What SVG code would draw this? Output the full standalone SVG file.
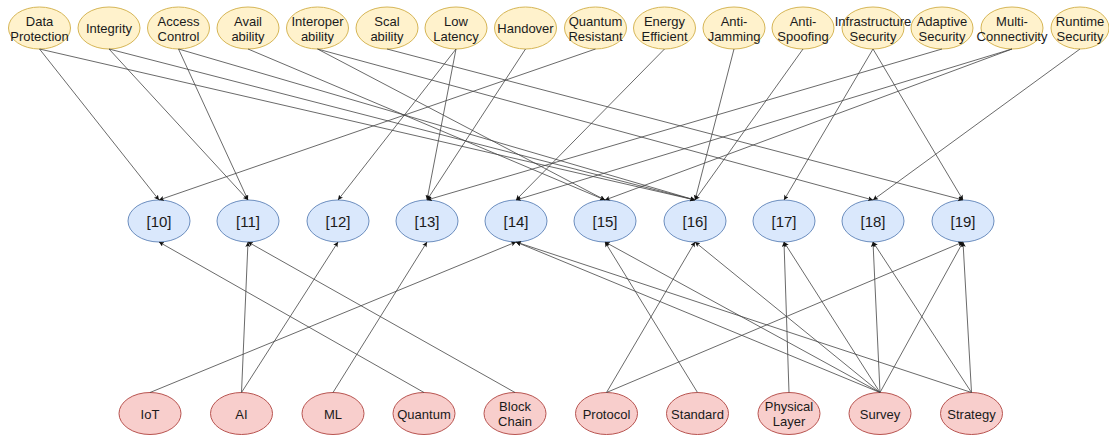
<svg xmlns="http://www.w3.org/2000/svg" width="1109" height="437" viewBox="0 0 1109 437">
<style>
.t ellipse{fill:#fff2cc;stroke:#d6b656;stroke-width:1}
.m ellipse{fill:#dae8fc;stroke:#6c8ebf;stroke-width:1}
.b ellipse{fill:#f8cecc;stroke:#b85450;stroke-width:1}
text{font-family:"Liberation Sans",Arial,sans-serif;font-size:13px;fill:#1a1a1a;text-anchor:middle}
.m text{font-size:15px}
#edges line{stroke:#444;stroke-width:0.8;marker-end:url(#arr)}
</style>
<defs>
<marker id="arr" markerUnits="userSpaceOnUse" markerWidth="8" markerHeight="6" refX="5" refY="2.5" orient="auto">
<path d="M0,0 L5,2.5 L0,5 L1.2,2.5 z" fill="#111"/>
</marker>
</defs>
<rect width="1109" height="437" fill="#ffffff"/>
<g id="top-nodes">
<g id="t0" class="t"><ellipse cx="39.5" cy="28" rx="31" ry="21"/><text x="39.5" y="25.5">Data</text><text x="39.5" y="40.5">Protection</text></g>
<g id="t1" class="t"><ellipse cx="109" cy="28" rx="31" ry="21"/><text x="109" y="33">Integrity</text></g>
<g id="t2" class="t"><ellipse cx="178.5" cy="28" rx="31" ry="21"/><text x="178.5" y="25.5">Access</text><text x="178.5" y="40.5">Control</text></g>
<g id="t3" class="t"><ellipse cx="248" cy="28" rx="31" ry="21"/><text x="248" y="25.5">Avail</text><text x="248" y="40.5">ability</text></g>
<g id="t4" class="t"><ellipse cx="317.5" cy="28" rx="31" ry="21"/><text x="317.5" y="25.5">Interoper</text><text x="317.5" y="40.5">ability</text></g>
<g id="t5" class="t"><ellipse cx="387" cy="28" rx="31" ry="21"/><text x="387" y="25.5">Scal</text><text x="387" y="40.5">ability</text></g>
<g id="t6" class="t"><ellipse cx="456" cy="28" rx="31" ry="21"/><text x="456" y="25.5">Low</text><text x="456" y="40.5">Latency</text></g>
<g id="t7" class="t"><ellipse cx="525.5" cy="28" rx="31" ry="21"/><text x="525.5" y="33">Handover</text></g>
<g id="t8" class="t"><ellipse cx="595.5" cy="28" rx="31" ry="21"/><text x="595.5" y="25.5">Quantum</text><text x="595.5" y="40.5">Resistant</text></g>
<g id="t9" class="t"><ellipse cx="664.5" cy="28" rx="31" ry="21"/><text x="664.5" y="25.5">Energy</text><text x="664.5" y="40.5">Efficient</text></g>
<g id="t10" class="t"><ellipse cx="734" cy="28" rx="31" ry="21"/><text x="734" y="25.5">Anti-</text><text x="734" y="40.5">Jamming</text></g>
<g id="t11" class="t"><ellipse cx="803" cy="28" rx="31" ry="21"/><text x="803" y="25.5">Anti-</text><text x="803" y="40.5">Spoofing</text></g>
<g id="t12" class="t"><ellipse cx="873" cy="28" rx="31" ry="21"/><text x="873" y="25.5">Infrastructure</text><text x="873" y="40.5">Security</text></g>
<g id="t13" class="t"><ellipse cx="942" cy="28" rx="31" ry="21"/><text x="942" y="25.5">Adaptive</text><text x="942" y="40.5">Security</text></g>
<g id="t14" class="t"><ellipse cx="1012" cy="28" rx="31" ry="21"/><text x="1012" y="25.5">Multi-</text><text x="1012" y="40.5">Connectivity</text></g>
<g id="t15" class="t"><ellipse cx="1080" cy="28" rx="29" ry="21"/><text x="1080" y="25.5">Runtime</text><text x="1080" y="40.5">Security</text></g>
</g>
<g id="mid-nodes">
<g id="m10" class="m"><ellipse cx="159" cy="221" rx="31" ry="21"/><text x="159" y="226.5">[10]</text></g>
<g id="m11" class="m"><ellipse cx="248" cy="221" rx="31" ry="21"/><text x="248" y="226.5">[11]</text></g>
<g id="m12" class="m"><ellipse cx="338" cy="221" rx="31" ry="21"/><text x="338" y="226.5">[12]</text></g>
<g id="m13" class="m"><ellipse cx="427" cy="221" rx="31" ry="21"/><text x="427" y="226.5">[13]</text></g>
<g id="m14" class="m"><ellipse cx="516" cy="221" rx="31" ry="21"/><text x="516" y="226.5">[14]</text></g>
<g id="m15" class="m"><ellipse cx="605" cy="221" rx="31" ry="21"/><text x="605" y="226.5">[15]</text></g>
<g id="m16" class="m"><ellipse cx="695" cy="221" rx="31" ry="21"/><text x="695" y="226.5">[16]</text></g>
<g id="m17" class="m"><ellipse cx="784" cy="221" rx="31" ry="21"/><text x="784" y="226.5">[17]</text></g>
<g id="m18" class="m"><ellipse cx="873" cy="221" rx="31" ry="21"/><text x="873" y="226.5">[18]</text></g>
<g id="m19" class="m"><ellipse cx="963" cy="221" rx="31" ry="21"/><text x="963" y="226.5">[19]</text></g>
</g>
<g id="bottom-nodes">
<g id="b0" class="b"><ellipse cx="150" cy="413.5" rx="31" ry="21"/><text x="150" y="418.5">IoT</text></g>
<g id="b1" class="b"><ellipse cx="241.5" cy="413.5" rx="31" ry="21"/><text x="241.5" y="418.5">AI</text></g>
<g id="b2" class="b"><ellipse cx="333" cy="413.5" rx="31" ry="21"/><text x="333" y="418.5">ML</text></g>
<g id="b3" class="b"><ellipse cx="424" cy="413.5" rx="31" ry="21"/><text x="424" y="418.5">Quantum</text></g>
<g id="b4" class="b"><ellipse cx="515" cy="413.5" rx="31" ry="21"/><text x="515" y="411">Block</text><text x="515" y="426">Chain</text></g>
<g id="b5" class="b"><ellipse cx="606.5" cy="413.5" rx="31" ry="21"/><text x="606.5" y="418.5">Protocol</text></g>
<g id="b6" class="b"><ellipse cx="697.5" cy="413.5" rx="31" ry="21"/><text x="697.5" y="418.5">Standard</text></g>
<g id="b7" class="b"><ellipse cx="789" cy="413.5" rx="31" ry="21"/><text x="789" y="411">Physical</text><text x="789" y="426">Layer</text></g>
<g id="b8" class="b"><ellipse cx="880" cy="413.5" rx="31" ry="21"/><text x="880" y="418.5">Survey</text></g>
<g id="b9" class="b"><ellipse cx="971.5" cy="413.5" rx="31" ry="21"/><text x="971.5" y="418.5">Strategy</text></g>
</g>
<g id="edges">
<line x1="39.5" y1="49" x2="159" y2="200"/>
<line x1="39.5" y1="49" x2="695" y2="200"/>
<line x1="109" y1="49" x2="248" y2="200"/>
<line x1="109" y1="49" x2="695" y2="200"/>
<line x1="178.5" y1="49" x2="248" y2="200"/>
<line x1="178.5" y1="49" x2="695" y2="200"/>
<line x1="248" y1="49" x2="605" y2="200"/>
<line x1="317.5" y1="49" x2="605" y2="200"/>
<line x1="317.5" y1="49" x2="873" y2="200"/>
<line x1="387" y1="49" x2="963" y2="200"/>
<line x1="456" y1="49" x2="338" y2="200"/>
<line x1="456" y1="49" x2="427" y2="200"/>
<line x1="525.5" y1="49" x2="427" y2="200"/>
<line x1="595.5" y1="49" x2="159" y2="200"/>
<line x1="664.5" y1="49" x2="516" y2="200"/>
<line x1="734" y1="49" x2="695" y2="200"/>
<line x1="803" y1="49" x2="695" y2="200"/>
<line x1="873" y1="49" x2="784" y2="200"/>
<line x1="873" y1="49" x2="963" y2="200"/>
<line x1="942" y1="49" x2="427" y2="200"/>
<line x1="1012" y1="49" x2="516" y2="200"/>
<line x1="1012" y1="49" x2="605" y2="200"/>
<line x1="1080" y1="49" x2="873" y2="200"/>
<line x1="424" y1="392.5" x2="159" y2="242"/>
<line x1="241.5" y1="392.5" x2="248" y2="242"/>
<line x1="515" y1="392.5" x2="248" y2="242"/>
<line x1="241.5" y1="392.5" x2="338" y2="242"/>
<line x1="333" y1="392.5" x2="427" y2="242"/>
<line x1="150" y1="392.5" x2="516" y2="242"/>
<line x1="880" y1="392.5" x2="516" y2="242"/>
<line x1="971.5" y1="392.5" x2="516" y2="242"/>
<line x1="697.5" y1="392.5" x2="605" y2="242"/>
<line x1="880" y1="392.5" x2="605" y2="242"/>
<line x1="606.5" y1="392.5" x2="695" y2="242"/>
<line x1="880" y1="392.5" x2="695" y2="242"/>
<line x1="789" y1="392.5" x2="784" y2="242"/>
<line x1="880" y1="392.5" x2="784" y2="242"/>
<line x1="880" y1="392.5" x2="873" y2="242"/>
<line x1="971.5" y1="392.5" x2="873" y2="242"/>
<line x1="606.5" y1="392.5" x2="963" y2="242"/>
<line x1="880" y1="392.5" x2="963" y2="242"/>
<line x1="971.5" y1="392.5" x2="963" y2="242"/>
</g>
</svg>
